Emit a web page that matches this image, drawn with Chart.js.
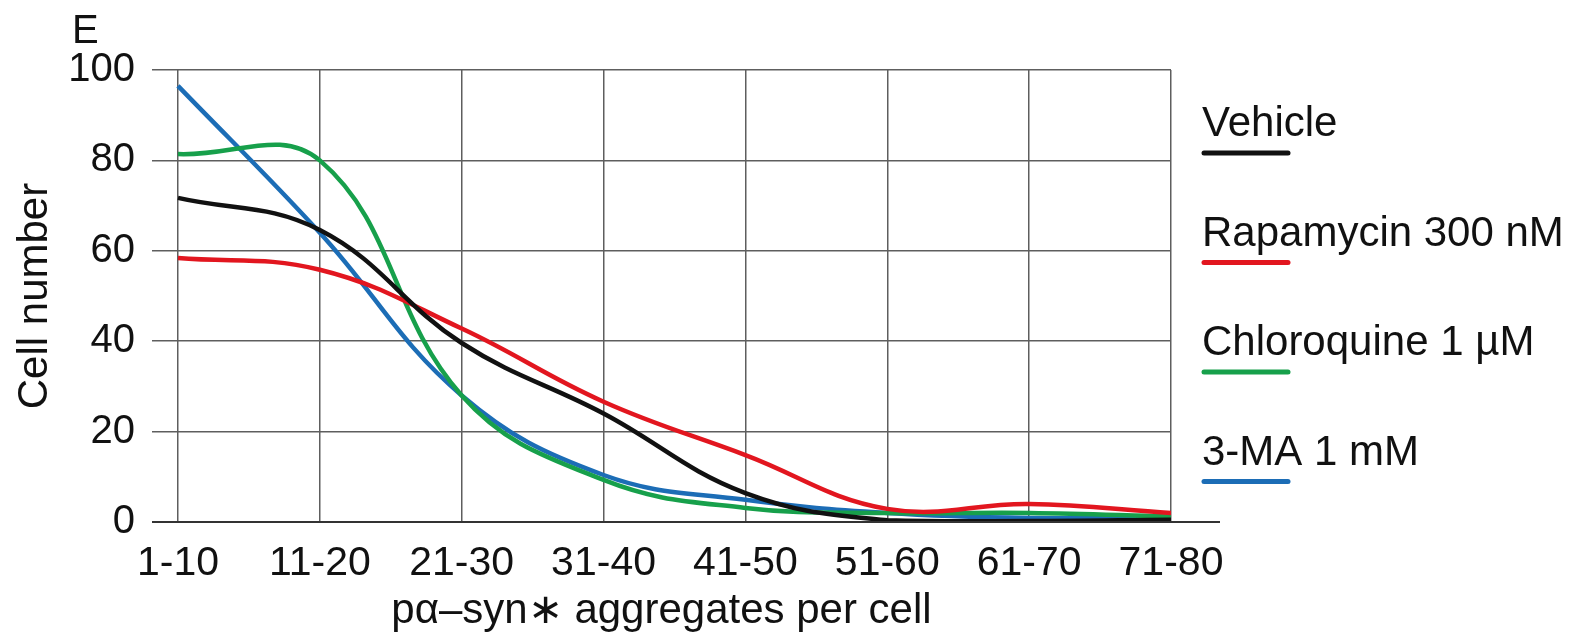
<!DOCTYPE html>
<html>
<head>
<meta charset="utf-8">
<title>Cell number</title>
<script src="https://cdn.jsdelivr.net/npm/chart.js@4.4.1/dist/chart.umd.min.js"></script>
<style>
	html, body { margin: 0; padding: 0; background: #fff; }
	#wrap { width: 1575px; height: 641px; }
</style>
</head>
<body>
<div id="wrap"><canvas id="chart_cells" width="1575" height="641"></canvas></div>
<script>
// Data
var categories = [ '1-10', '11-20', '21-30', '31-40', '41-50', '51-60', '61-70', '71-80' ];
var vehicle     = [ 71.7, 64.6, 39.6, 24.0, 6.4, 0.4, 0.2, 0.5 ];
var rapamycin   = [ 58.4, 55.8, 42.8, 26.6, 14.8, 2.9, 4.0, 2.0 ];
var chloroquine = [ 81.4, 80.0, 28.0, 9.3, 3.1, 2.0, 2.0, 1.2 ];
var threeMA     = [ 96.5, 64.0, 28.0, 10.4, 4.9, 2.0, 0.9, 1.0 ];
var seriesNames = [ 'Vehicle', 'Rapamycin 300 nM', 'Chloroquine 1 \u00b5M', '3-MA 1 mM' ];
var seriesColors = [ '#111111', '#e2161f', '#17a04b', '#1c6db6' ];
var yTicks = [ 0, 20, 40, 60, 80, 100 ];

var FONT = "'Liberation Sans', Arial, sans-serif";

function makeSet( i, values ) {
	return {
		label: seriesNames[i],
		data: values.map( function( v, k ) { return { x: k, y: v }; } ),
		borderColor: seriesColors[i],
		backgroundColor: seriesColors[i],
		borderWidth: 4.5,
		pointRadius: 0,
		tension: 0.4,
		fill: false
	};
}

// draws the panel letter, the long baseline and the legend with underlines
var extras = {
	id: 'extras',
	afterDraw: function( chart ) {
		var ctx = chart.ctx;
		var area = chart.chartArea;
		var y0 = chart.scales.y.getPixelForValue( 0 );

		ctx.save();
		ctx.strokeStyle = '#333';
		ctx.lineWidth = 2;
		ctx.beginPath();
		ctx.moveTo( area.left, y0 );
		ctx.lineTo( area.right + 49, y0 );
		ctx.stroke();

		ctx.fillStyle = '#111';
		ctx.font = '40px ' + FONT;
		ctx.textAlign = 'left';
		ctx.textBaseline = 'alphabetic';
		ctx.fillText( 'E', 72, 43 );

		ctx.font = '42px ' + FONT;
		var x = area.right + 31;
		chart.data.datasets.forEach( function( ds, i ) {
			var base = 136 + i * 109.5;
			ctx.fillStyle = '#111';
			ctx.fillText( ds.label, x, base );
			ctx.strokeStyle = ds.borderColor;
			ctx.lineWidth = 5;
			ctx.lineCap = 'round';
			ctx.beginPath();
			ctx.moveTo( x + 2, base + 17 );
			ctx.lineTo( x + 86, base + 17 );
			ctx.stroke();
		});
		ctx.restore();
	}
};

var ctx = document.getElementById('chart_cells').getContext('2d');
var chart_cells = new Chart(ctx, {
	type: 'line',
	data: {
		datasets: [
			makeSet( 0, vehicle ),
			makeSet( 1, rapamycin ),
			makeSet( 2, chloroquine ),
			makeSet( 3, threeMA )
		]
	},
	options: {
		responsive: false,
		animation: false,
		layout: { padding: { top: 70, right: 404, bottom: 0, left: 0 } },
		plugins: {
			legend: { display: false },
			tooltip: { enabled: false }
		},
		scales: {
			x: {
				type: 'linear',
				min: -0.183,
				max: 7,
				afterBuildTicks: function( scale ) {
					scale.ticks = categories.map( function( c, i ) { return { value: i }; } );
				},
				afterFit: function( scale ) { scale.height = 119; },
				ticks: {
					autoSkip: false,
					maxRotation: 0,
					padding: 17,
					color: '#111',
					font: { family: FONT, size: 41 },
					callback: function( v ) { return categories[v]; }
				},
				grid: { color: '#5e5e5e', lineWidth: 1.5, drawTicks: false },
				border: { display: false },
				title: {
					display: true,
					text: 'p\u03b1\u2013syn\u2217 aggregates per cell',
					color: '#111',
					font: { family: FONT, size: 42 },
					padding: { top: 0, bottom: 4 }
				}
			},
			y: {
				min: 0,
				max: 100,
				afterBuildTicks: function( scale ) {
					scale.ticks = yTicks.map( function( v ) { return { value: v }; } );
				},
				afterFit: function( scale ) { scale.width = 152; },
				ticks: {
					padding: 17,
					color: '#111',
					font: { family: FONT, size: 40 }
				},
				grid: { color: '#5e5e5e', lineWidth: 1.5, drawTicks: false },
				border: { display: false },
				title: {
					display: true,
					text: 'Cell number',
					color: '#111',
					font: { family: FONT, size: 42 },
					padding: { top: 10, bottom: 0 }
				}
			}
		}
	},
	plugins: [ extras ]
});
</script>
</body>
</html>
